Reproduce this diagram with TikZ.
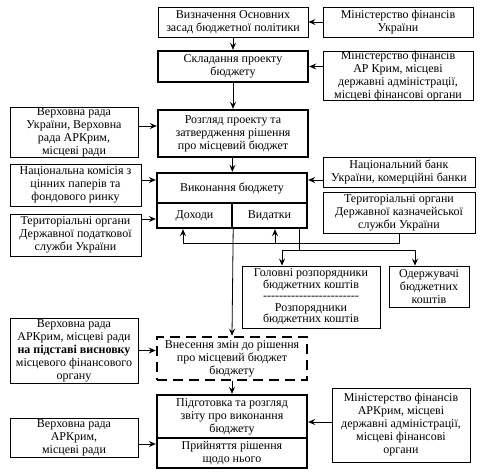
\documentclass[tikz,border=0pt]{standalone}
\usepackage{fontspec}
\setmainfont{Liberation Serif}
\usetikzlibrary{arrows.meta}
\newcommand\hy{\hbox{-}}
\newcommand\hyrow{\hy\hy\hy\hy\hy\hy\hy\hy\hy\hy\hy\hy\hy\hy\hy\hy\hy\hy\hy\hy\hy\hy\hy\hy}
\begin{document}
\begin{tikzpicture}[x=1pt,y=-1pt,
 box/.style={draw,line width=0.9pt,align=center,inner sep=0pt,font=\fontsize{12}{13}\selectfont},
 thickbox/.style={box,line width=2.4pt},
 dashbox/.style={box,line width=2.6pt,dash pattern=on 10pt off 6pt},
 ar/.style={-{Stealth[length=7pt,width=6pt,inset=2.5pt]},line width=0.8pt},
 ln/.style={line width=0.8pt}]
\useasboundingbox (0,0) rectangle (487,475);
% central column
\node[box,minimum width=150,minimum height=30] (vyzn) at (233,22) {Визначення Основних\\засад бюджетної політики};
\node[thickbox,minimum width=150,minimum height=31] (sklad) at (233,66.5) {Складання проекту\\бюджету};
\node[thickbox,minimum width=150,minimum height=47] (rozgl) at (233,133.5) {Розгляд проекту та\\затвердження рішення\\про місцевий бюджет};
\node[thickbox,minimum width=150,minimum height=30] (vyk) at (232,188) {Виконання бюджету};
\node[thickbox,minimum width=75,minimum height=25] (doh) at (194.5,215.5) {Доходи};
\node[thickbox,minimum width=75,minimum height=25] (vyd) at (269.5,215.5) {Видатки};
\node[dashbox,minimum width=150,minimum height=43] (vnes) at (232,358.5) {Внесення змін до рішення\\про місцевий бюджет\\бюджету};
\node[thickbox,minimum width=150,minimum height=43] (pidg) at (232,416.5) {Підготовка та розгляд\\звіту про виконання\\бюджету};
\node[thickbox,minimum width=150,minimum height=30] (pryin) at (232,453) {Прийняття рішення\\щодо нього};
% right column
\node[box,minimum width=150,minimum height=30] (minUkr) at (398,22) {Міністерство фінансів\\України};
\node[box,minimum width=150,minimum height=48] (minAR) at (398,76) {Міністерство фінансів\\АР Крим, місцеві\\державні адміністрації,\\місцеві фінансові органи};
\node[box,minimum width=152,minimum height=30] (nbu) at (399,172) {Національний банк\\України, комерційні банки};
\node[box,minimum width=152,minimum height=41] (dks) at (399,212.5) {Територіальні органи\\Державної казначейської\\служби України};
\node[box,minimum width=138,minimum height=62,font=\fontsize{12}{11.5}\selectfont] (hol) at (311,297) {Головні розпорядники\\бюджетних коштів\\\hyrow\\Розпорядники\\бюджетних коштів};
\node[box,minimum width=80,minimum height=41] (oderzh) at (429,286.5) {Одержувачі\\бюджетних\\коштів};
\node[box,minimum width=138,minimum height=74] (minAR2) at (401,425) {Міністерство фінансів\\АРКрим, місцеві\\державні адміністрації,\\місцеві фінансові\\органи};
% left column
\node[box,minimum width=128,minimum height=50] (vrU) at (74,132) {Верховна рада\\України, Верховна\\рада АРКрим,\\місцеві ради};
\node[box,minimum width=131,minimum height=42] (nkc) at (75.5,185) {Національна комісія з\\цінних паперів та\\фондового ринку};
\node[box,minimum width=131,minimum height=42] (dps) at (75.5,235) {Територіальні органи\\Державної податкової\\служби України};
\node[box,minimum width=128,minimum height=65] (vrAR) at (74,350.5) {Верховна рада\\АРКрим, місцеві ради\\\textbf{на підставі висновку}\\місцевого фінансового\\органу};
\node[box,minimum width=128,minimum height=39] (vrAR2) at (74,437.5) {Верховна рада\\АРКрим,\\місцеві ради};
% vertical flow
\draw[ar] (vyzn) -- (sklad);
\draw[ar] (sklad) -- (rozgl);
\draw[ar] (rozgl) -- (vyk);
\draw[ar] (doh.south east) -- (vnes.north);
\draw[ar] (vnes) -- (pidg);
% horizontal inputs
\draw[ar] (minUkr) -- (vyzn);
\draw[ar] (sklad.east -| minAR.west) -- (sklad.east);
\draw[ar] ([yshift=6pt]vrU.east) -- ([yshift=6pt]vrU.east -| rozgl.west);
\draw[ar] ([yshift=5pt]nkc.east) -- ([yshift=5pt]nkc.east -| vyk.west);
\draw[ar] ([yshift=16pt]dps.east) -- ([yshift=16pt]dps.east -| doh.west);
\draw[ar] ([yshift=-8pt]nbu.west) -- ([yshift=-8pt]nbu.west -| vyk.east);
\draw[ar] (vrAR.east) -- (vrAR.east -| vnes.west);
\draw[ar] ([yshift=3pt]minAR2.west) -- ([yshift=3pt]minAR2.west -| pidg.east);
\draw[ar] ([yshift=-6.5pt]vrAR2.east) -- ([yshift=-6.5pt]vrAR2.east -| pryin.west);
% treasury links
\coordinate (tj) at (183,243);
\coordinate (tv) at (275,243);
\draw[ln] (dks.south) |- (tj);
\draw[ar] (tj) -- (tj |- doh.south);
\draw[ar] (tv) -- (tv |- vyd.south);
% distribution
\coordinate (dv) at (299,250);
\coordinate (d1) at (282,250);
\coordinate (d2) at (415,250);
\draw[ln] (vyd.south -| dv) -- (dv);
\draw[ln] (d1) -- (d2);
\draw[ar] (d1) -- (d1 |- hol.north);
\draw[ar] (d2) -- (d2 |- oderzh.north);
\end{tikzpicture}
\end{document}
